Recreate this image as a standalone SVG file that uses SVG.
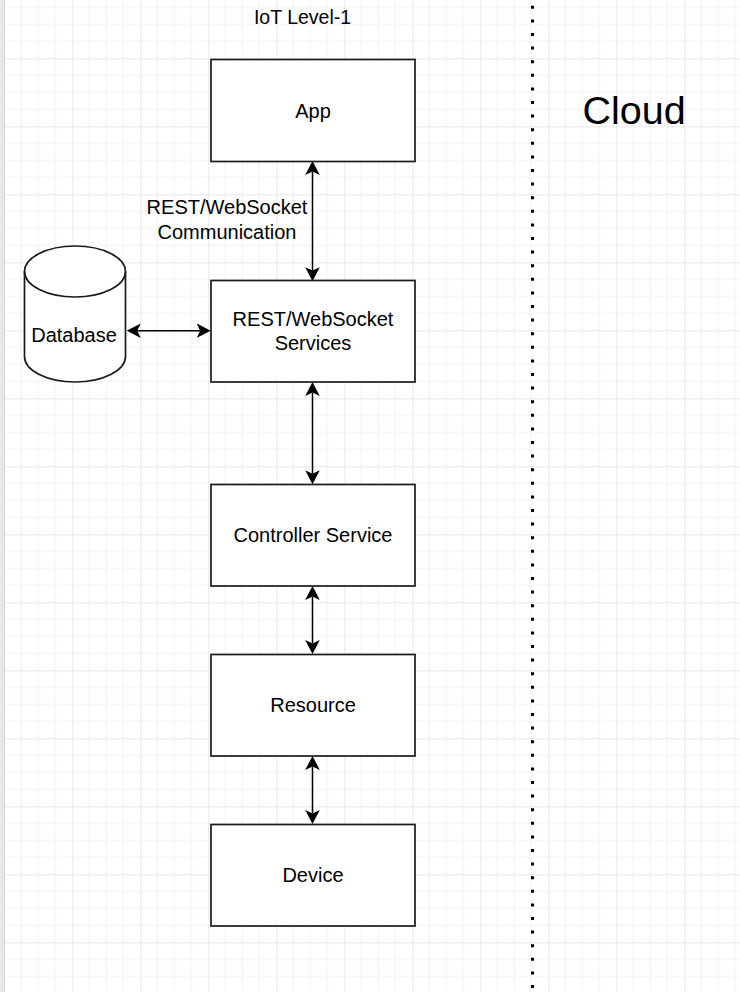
<svg xmlns="http://www.w3.org/2000/svg" width="740" height="992" viewBox="0 0 740 992">
  <style>
    .box { fill: #ffffff; stroke: #1a1a1a; stroke-width: 1.7; }
    .lbl { font-family: "Liberation Sans", Arial, Helvetica, sans-serif; font-size: 20px; fill: #000000; text-anchor: middle; }
    .conn { stroke: #000000; stroke-width: 1.5; fill: none; marker-start: url(#arr); marker-end: url(#arr); }
  </style>
  <defs>
    <pattern id="grid" patternUnits="userSpaceOnUse" x="4.3" y="-9.7" width="68" height="68">
      <path d="M17,0 V68 M34,0 V68 M51,0 V68 M0,17 H68 M0,34 H68 M0,51 H68" stroke="#f1f1f1" stroke-width="1.2" fill="none"/>
      <path d="M0,0 V68 M0,0 H68" stroke="#d2d2d2" stroke-width="1" fill="none"/>
    </pattern>
    <marker id="arr" viewBox="0 -8 14 16" markerWidth="14" markerHeight="16" refX="3.4" refY="0" orient="auto-start-reverse" markerUnits="userSpaceOnUse">
      <path d="M0,-7.3 L14,0 L0,7.3 L3.4,0 Z" fill="#000000"/>
    </marker>
  </defs>

  <rect x="0" y="0" width="740" height="992" fill="#ffffff"/>
  <rect x="5.5" y="0" width="735" height="992" fill="url(#grid)"/>
  <rect x="0" y="0" width="4.5" height="992" fill="#e8e8e8"/>
  <line x1="4.5" y1="0" x2="4.5" y2="992" stroke="#d4d4d4" stroke-width="1"/>

  <g id="title">
    <text class="lbl" x="302.5" y="24" style="font-size:19.5px">IoT Level-1</text>
  </g>

  <g id="divider">
    <line x1="532.5" y1="5.8" x2="532.5" y2="992" stroke="#000000" stroke-width="3" stroke-dasharray="3 10.6"/>
  </g>

  <g id="cloud-label">
    <text class="lbl" x="634" y="124" style="font-size:39.5px">Cloud</text>
  </g>

  <g id="connectors">
    <line class="conn" x1="312.5" y1="171.6" x2="312.5" y2="270.6"/>
    <line class="conn" x1="312.5" y1="392.6" x2="312.5" y2="473.7"/>
    <line class="conn" x1="312.5" y1="596.6" x2="312.5" y2="643.4"/>
    <line class="conn" x1="312.5" y1="766.6" x2="312.5" y2="813.4"/>
    <line class="conn" x1="137.3" y1="330.7" x2="200.1" y2="330.7"/>
    <text class="lbl" x="227" y="214.3">REST/WebSocket</text>
    <text class="lbl" x="227" y="239.3">Communication</text>
  </g>

  <g id="app">
    <rect class="box" x="211" y="59.5" width="204" height="102"/>
    <text class="lbl" x="313" y="117.5">App</text>
  </g>

  <g id="rest-services">
    <rect class="box" x="211" y="280.5" width="204" height="101.5"/>
    <text class="lbl" x="313" y="325.5">REST/WebSocket</text>
    <text class="lbl" x="313" y="349.5">Services</text>
  </g>

  <g id="database">
    <path class="box" d="M24.5,271.5 L24.5,356.5 A50.5,25.5 0 0 0 125.5,356.5 L125.5,271.5 A50.5,25.5 0 0 0 24.5,271.5 Z"/>
    <path d="M24.5,271.5 A50.5,25.5 0 0 0 125.5,271.5" fill="none" stroke="#1a1a1a" stroke-width="1.7"/>
    <text class="lbl" x="74" y="342">Database</text>
  </g>

  <g id="controller-service">
    <rect class="box" x="211" y="484.5" width="204" height="101.5"/>
    <text class="lbl" x="313" y="542">Controller Service</text>
  </g>

  <g id="resource">
    <rect class="box" x="211" y="654.5" width="204" height="101.5"/>
    <text class="lbl" x="313" y="712">Resource</text>
  </g>

  <g id="device">
    <rect class="box" x="211" y="824.5" width="204" height="101.5"/>
    <text class="lbl" x="313" y="882">Device</text>
  </g>
</svg>
